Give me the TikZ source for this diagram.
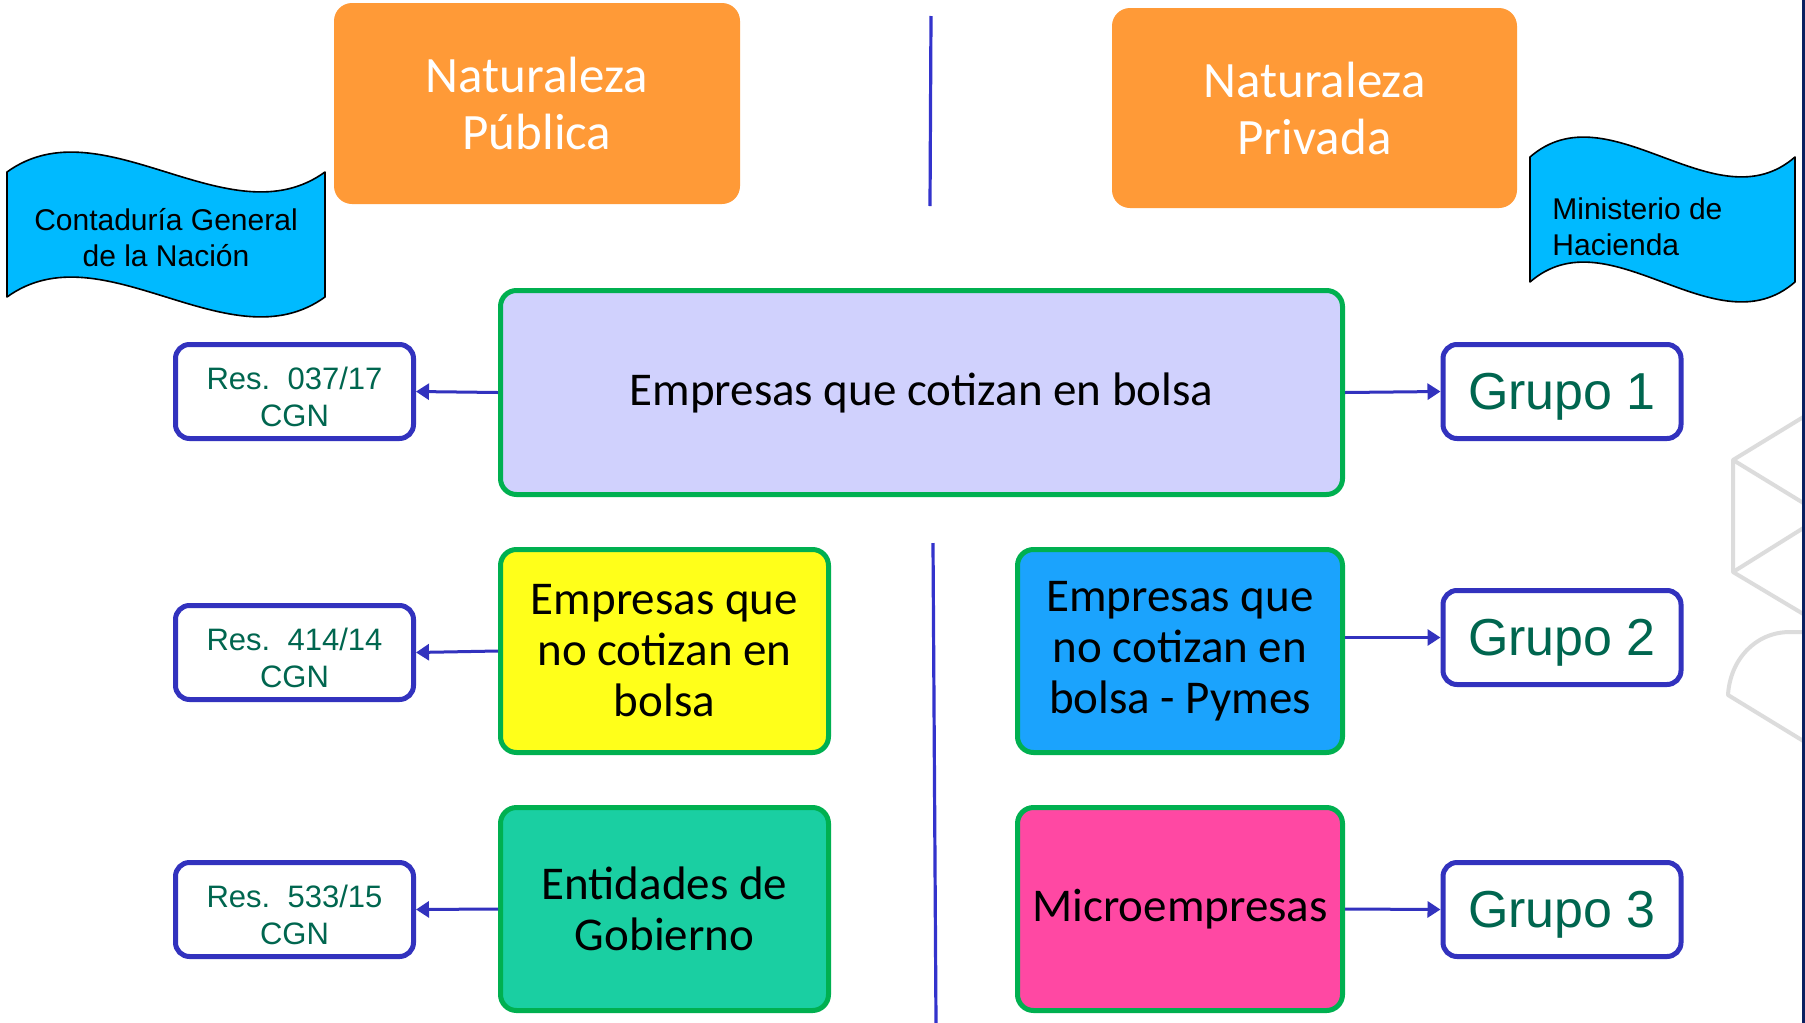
\documentclass[tikz,border=0pt]{standalone}
\usepackage{fontspec}
\setmainfont{Carlito}
\newfontfamily\fari{Liberation Sans}
\usetikzlibrary{arrows.meta}
\definecolor{orangeC}{HTML}{FF9A37}
\definecolor{bannerC}{HTML}{00BAFF}
\definecolor{lavC}{HTML}{D0D1FD}
\definecolor{greenB}{HTML}{00B050}
\definecolor{yellowC}{HTML}{FFFF1A}
\definecolor{tealC}{HTML}{1ACFA2}
\definecolor{blueC}{HTML}{1BA3FD}
\definecolor{pinkC}{HTML}{FF48A3}
\definecolor{navyB}{HTML}{3232BE}
\definecolor{textG}{HTML}{00664F}
\definecolor{divC}{HTML}{3333CC}
\definecolor{edgeC}{HTML}{0A2060}
\definecolor{decoC}{HTML}{DCDCDC}
\newcommand\topstrut{\rule{0pt}{16.2pt}}
\begin{document}
\begin{tikzpicture}[x=0.5pt,y=-0.5pt,
  orangebox/.style={rectangle, rounded corners=9pt, fill=orangeC, text=white,
    minimum width=203pt, minimum height=100.5pt, inner sep=0pt, align=center,
    text depth=0pt, font=\fontsize{25.5}{28.5}\selectfont},
  catbox/.style={rectangle, rounded corners=8pt, draw=greenB, line width=2.5pt,
    inner sep=0pt, align=center, font=\fontsize{23.5}{25.5}\selectfont},
  resbox/.style={rectangle, rounded corners=7pt, draw=navyB, line width=2.5pt, fill=white,
    minimum width=119pt, minimum height=47pt, inner sep=0pt, align=center, text=textG,
    font=\fari\fontsize{15.5}{18.5}\selectfont},
  grupobox/.style={resbox, text depth=0pt, font=\fari\fontsize{26}{30}\selectfont},
  bannertext/.style={inner sep=0pt, font=\fari\fontsize{15}{18}\selectfont},
  banner/.style={fill=bannerC, draw=black, line width=0.8pt, line join=round},
  conn/.style={draw=navyB, line width=1.5pt, -{Triangle[length=6.5pt,width=8pt]}},
  divider/.style={draw=divC, line width=1.6pt},
  deco/.style={draw=decoC, line width=2pt, line join=round}
]
\useasboundingbox (0,0) rectangle (1805,1023);
\fill[white] (0,0) rectangle (1805,1023);

% decorative shapes at right edge
\draw[deco] (1805,416) -- (1733,460) -- (1733,572) -- (1805,615);
\draw[deco] (1733,460) -- (1805,504);
\draw[deco] (1805,527) -- (1733,572);
\draw[deco] (1805,632) -- (1790,632) .. controls (1755,632) and (1730,660) .. (1728,695) -- (1805,742);
\draw[draw=edgeC, line width=1.6pt] (1803.5,0) -- (1803.5,1023);

% dividers
\coordinate (d1a) at (931,16);
\coordinate (d1b) at (930,206);
\coordinate (d2a) at (933,543);
\coordinate (d2b) at (936,1023);
\draw[divider] (d1a) -- (d1b);
\draw[divider] (d2a) -- (d2b);

% header boxes
\node[orangebox] (pub) at (537,103.5) {Naturaleza\\Pública};
\node[orangebox, minimum width=202.5pt, minimum height=100pt] (priv) at (1314.5,108) {Naturaleza\\Privada};

% banners
\path[banner] (7,172) .. controls (102.4,103) and (229.6,241) .. (325,172) -- (325,297)
  .. controls (229.6,366) and (102.4,228) .. (7,297) -- cycle;
\node[bannertext, align=center] (cgn) at (166,238) {Contaduría General\\de la Nación};
\path[banner] (1530,157) .. controls (1609.5,88) and (1715.5,226) .. (1795,157) -- (1795,282)
  .. controls (1715.5,351) and (1609.5,213) .. (1530,282) -- cycle;
\node[bannertext, align=left, anchor=west] (mh) at (1552,227) {Ministerio de\\Hacienda};

% category boxes
\node[catbox, fill=lavC, minimum width=421pt, minimum height=102pt] (central) at (921.5,392.5) {Empresas que cotizan en bolsa};
\node[catbox, fill=yellowC, minimum width=164pt, minimum height=101.5pt] (yellow) at (664.5,651) {Empresas que\\no cotizan en\\bolsa};
\node[catbox, fill=tealC, minimum width=164pt, minimum height=101.5pt] (teal) at (664.5,909) {Entidades de\\Gobierno};
\node[catbox, fill=blueC, minimum width=162.5pt, minimum height=101.5pt] (blue) at (1180,651) {Empresas que\\no cotizan en\\bolsa - Pymes};
\node[catbox, fill=pinkC, minimum width=162.5pt, minimum height=101.5pt] (pink) at (1180,909) {Microempresas};

% resolution boxes
\node[resbox] (res1) at (294.5,391.5) {\topstrut Res.~~037/17\\CGN};
\node[resbox] (res2) at (294.5,652.5) {\topstrut Res.~~414/14\\CGN};
\node[resbox] (res3) at (294.5,909.5) {\topstrut Res.~~533/15\\CGN};

% grupo boxes
\node[grupobox] (g1) at (1562,391.5) {Grupo 1};
\node[grupobox] (g2) at (1562,637.5) {Grupo 2};
\node[grupobox] (g3) at (1562,909.5) {Grupo 3};

% connectors
\draw[conn] (central.west) -- (res1.east);
\draw[conn] (yellow.west) -- (res2.east);
\draw[conn] (teal.west) -- (res3.east);
\draw[conn] (central.east) -- (g1.west);
\draw[conn] (blue.east |- g2.west) -- (g2.west);
\draw[conn] (pink.east) -- (g3.west);
\end{tikzpicture}
\end{document}
